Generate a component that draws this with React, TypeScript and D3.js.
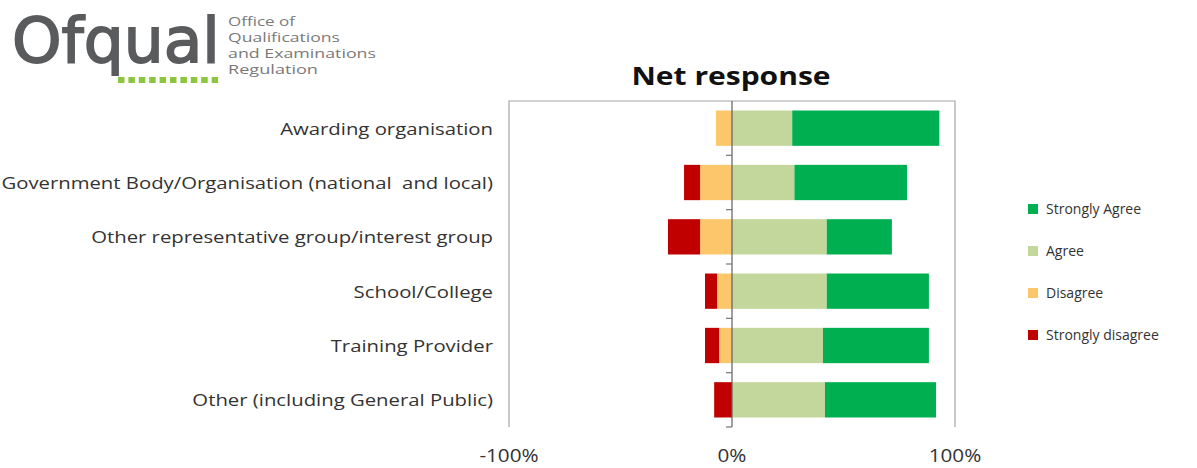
import React from "react";
import * as d3 from "d3";

const categories = [
  "Awarding organisation",
  "Government Body/Organisation (national  and local)",
  "Other representative group/interest group",
  "School/College",
  "Training Provider",
  "Other (including General Public)",
];
const stronglyDisagree = [0, 7.2, 14.4, 5.4, 6.3, 8.0];
const disagree = [7.2, 14.3, 14.3, 6.7, 5.8, 0];
const agree = [27.0, 28.0, 42.5, 42.5, 40.8, 41.7];
const stronglyAgree = [66.0, 50.5, 29.2, 45.8, 47.5, 49.8];
const xTicks = [-100, 0, 100];
const legendLabels = ["Strongly Agree", "Agree", "Disagree", "Strongly disagree"];
const legendColors = ["#00b050", "#c3d69b", "#fcc66a", "#c00000"];
const logoLines = ["Office of", "Qualifications", "and Examinations", "Regulation"];
const logoLineWidths = [67, 112, 148, 90];

const W = 1197;
const H = 468;
const FONT = "'Open Sans', sans-serif";

export default function App() {
  const x = d3.scaleLinear().domain([-100, 100]).range([509, 955]);
  const y = d3
    .scaleBand<string>()
    .domain(categories)
    .range([101, 427])
    .paddingInner(0.35)
    .paddingOuter(0.175);
  const bw = y.bandwidth();

  const segs: { x0: number; x1: number; c: string; i: number }[] = [];
  categories.forEach((_, i) => {
    const d = disagree[i];
    const sd = stronglyDisagree[i];
    const a = agree[i];
    const sa = stronglyAgree[i];
    if (d > 0) segs.push({ x0: -d, x1: 0, c: legendColors[2], i });
    if (sd > 0) segs.push({ x0: -d - sd, x1: -d, c: legendColors[3], i });
    segs.push({ x0: 0, x1: a, c: legendColors[1], i });
    segs.push({ x0: a, x1: a + sa, c: legendColors[0], i });
  });

  const boundaries = d3
    .range(1, categories.length + 1)
    .map((k) => 101 + k * (326 / categories.length));

  return (
    <svg
      width={W}
      height={H}
      style={{ position: "absolute", left: 0, top: 0, display: "block", background: "#fff" }}
    >
      {/* Logo */}
      <g>
        <text
          x={12}
          y={62}
          fontFamily="'DejaVu Sans', sans-serif"
          fontSize={63}
          fill="#5a5b5d"
          stroke="#5a5b5d"
          strokeWidth={1.8}
        >
          Ofqual
        </text>
        {d3.range(10).map((k) => (
          <rect key={k} x={118 + k * 10.4} y={77} width={6.5} height={6} fill="#8cc63f" />
        ))}
        {logoLines.map((t, k) => (
          <text
            key={t}
            x={228}
            y={25.5 + k * 16}
            fontFamily={FONT}
            fontSize={13.5}
            fill="#7a7a7a"
            textLength={logoLineWidths[k]}
            lengthAdjust="spacingAndGlyphs"
          >
            {t}
          </text>
        ))}
      </g>

      {/* Title */}
      <text
        transform={`translate(731, 85) scale(1.2, 1)`}
        textAnchor="middle"
        fontFamily={FONT}
        fontWeight="bold"
        fontSize={25}
        fill="#111"
      >
        Net response
      </text>

      {/* Plot frame (top, left, right) */}
      <path d="M509,427 V101 H955 V427" fill="none" stroke="#a6a6a6" strokeWidth={1.2} />

      {/* Bars */}
      {segs.map((s, k) => (
        <rect
          key={k}
          x={x(s.x0)}
          y={y(categories[s.i])!}
          width={x(s.x1) - x(s.x0)}
          height={bw}
          fill={s.c}
        />
      ))}

      {/* Zero axis */}
      <line x1={x(0)} x2={x(0)} y1={101} y2={427} stroke="#5f5f5f" strokeWidth={1.2} />
      {boundaries.map((b, k) => (
        <line key={k} x1={x(0) - 6} x2={x(0)} y1={b} y2={b} stroke="#777" strokeWidth={1.2} />
      ))}

      {/* Category labels */}
      {categories.map((c) => (
        <text
          key={c}
          transform={`translate(493, ${y(c)! + bw / 2 + 6.5}) scale(1.195, 1)`}
          textAnchor="end"
          fontFamily={FONT}
          fontSize={17}
          fill="#333"
          style={{ whiteSpace: "pre" }}
        >
          {c}
        </text>
      ))}

      {/* X tick labels */}
      {xTicks.map((t) => (
        <text
          key={t}
          transform={`translate(${x(t)}, 462) scale(1.15, 1)`}
          textAnchor="middle"
          fontFamily={FONT}
          fontSize={18}
          fill="#333"
        >
          {t + "%"}
        </text>
      ))}

      {/* Legend */}
      {legendLabels.map((l, k) => (
        <g key={l} transform={`translate(1028, ${209 + k * 42})`}>
          <rect x={0} y={-5} width={10} height={10} fill={legendColors[k]} />
          <text x={18} y={5} fontFamily={FONT} fontSize={14} fill="#333">
            {l}
          </text>
        </g>
      ))}
    </svg>
  );
}
